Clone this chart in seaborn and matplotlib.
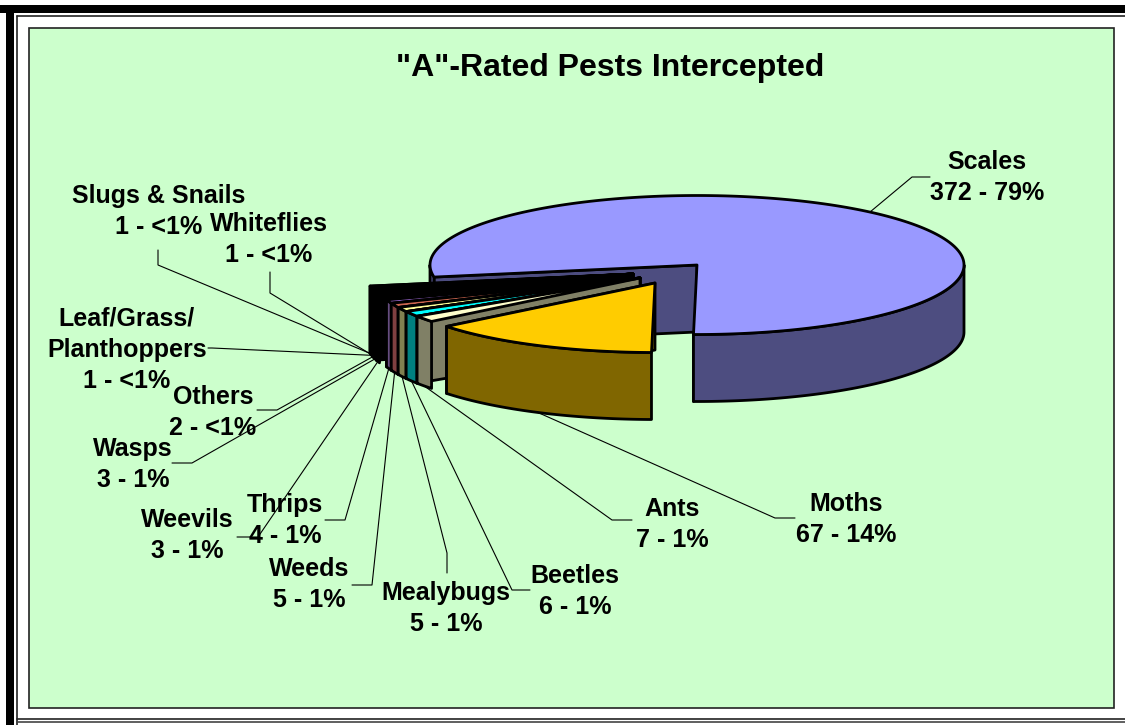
import numpy as np
import matplotlib
matplotlib.use("Agg")
import matplotlib.pyplot as plt
import seaborn as sns

pests = ['Scales', 'Moths', 'Ants', 'Beetles', 'Mealybugs', 'Weeds', 'Thrips', 'Weevils',
         'Wasps', 'Others', 'Leaf/Grass/\nPlanthoppers', 'Whiteflies', 'Slugs & Snails']
counts = [372, 67, 7, 6, 5, 5, 4, 3, 3, 2, 1, 1, 1]
shares = ['79%', '14%', '1%', '1%', '1%', '1%', '1%', '1%', '1%', '<1%', '<1%', '<1%', '<1%']

top_colors = ['#9999FF', '#FFCC00', '#FFFFCC', '#00FFFF', '#FFFF99', '#CC6650', '#9966CC',
              '#000000', '#000000', '#000000', '#000000', '#000000', '#000000']
side_colors = ['#4D4D80', '#806600', '#808066', '#008080', '#808050', '#804040', '#664D80',
               '#000000', '#000000', '#000000', '#000000', '#000000', '#000000']

sns.set_theme(style="white")
plt.rcParams['font.family'] = ['Liberation Sans', 'DejaVu Sans']

fig = plt.figure(figsize=(11.25, 7.25), dpi=100, facecolor='white')
ax = fig.add_axes([0, 0, 1, 1])
ax.set_xlim(0, 1125)
ax.set_ylim(725, 0)
ax.axis('off')

# frame around the chart
ax.fill([0, 1125, 1125, 0], [5, 5, 13, 13], color='black', lw=0)
ax.fill([6, 14, 14, 6], [5, 5, 725, 725], color='black', lw=0)
ax.plot([16.5, 1125], [16, 16], color='#222222', lw=1.2)
ax.plot([16.5, 16.5], [16, 725], color='#222222', lw=1.2)
ax.plot([16.5, 1125], [719, 719], color='#222222', lw=1.2)
ax.plot([16.5, 1125], [722, 722], color='#444444', lw=1.2)
ax.fill([29, 1114, 1114, 29], [28, 28, 708, 708], facecolor='#CCFFCC', edgecolor='#222222', lw=1.2)

# geometry of the tilted pie
RX, RY, DEPTH = 267, 69.5, 67
OUTLINE = 2.0
angles = 360 * np.cumsum([0] + counts) / sum(counts)
starts = 190 - angles[:-1]
ends = 190 - angles[1:]

# each slice pulled out from the middle, in pixels
apex = [(697, 265), (655, 283)] + [(640, 278)] * 5 + [(633, 274)] * 6


def rim(a0, a1, cx, cy):
    t = np.radians(np.linspace(a0, a1, 200))
    return cx + RX * np.cos(t), cy - RY * np.sin(t)


def draw_slice(i):
    cx, cy = apex[i]
    x, y = rim(starts[i], ends[i], cx, cy)
    style = dict(edgecolor='black', lw=OUTLINE, joinstyle='round')
    # cut face on the clockwise end, then the other one for the big slice
    ex, ey = x[-1], y[-1]
    ax.fill([cx, ex, ex, cx], [cy, ey, ey + DEPTH, cy + DEPTH], facecolor=side_colors[i], **style)
    if i == 0:
        ex, ey = x[0], y[0]
        ax.fill([cx, ex, ex, cx], [cy, ey, ey + DEPTH, cy + DEPTH], facecolor=side_colors[i], **style)
    # outer wall, only the part facing the viewer
    lo, hi = min(starts[i], ends[i]), max(starts[i], ends[i])
    for w0, w1 in [(-180, 0), (180, 360)]:
        a0, a1 = max(lo, w0), min(hi, w1)
        if a1 > a0:
            wx, wy = rim(a0, a1, cx, cy)
            ax.fill(np.r_[wx, wx[::-1]], np.r_[wy, wy[::-1] + DEPTH], facecolor=side_colors[i], **style)
    ax.fill(np.r_[cx, x], np.r_[cy, y], facecolor=top_colors[i], **style)


# back to front: big slice, tiny ones from the far side, then moths
for i in [0] + list(range(12, 1, -1)) + [1]:
    draw_slice(i)

# leader lines: elbow and end are layout, start sits on the slice wall
elbows = [(912, 177, 930, 177), (775, 518, 795, 518), (612, 520, 632, 520), (512, 590, 530, 590),
          (447, 553, 447, 573), (372, 585, 352, 585), (345, 520, 325, 520), (258, 537, 237, 537),
          (192, 463, 172, 463), (277, 410, 257, 410), (212, 348, 208, 348), (270, 293, 270, 272),
          (158, 265, 158, 250)]
for i, (ex, ey, fx, fy) in enumerate(elbows):
    mid = np.radians((starts[i] + ends[i]) / 2)
    sx = apex[i][0] + RX * np.cos(mid)
    sy = apex[i][1] - RY * np.sin(mid) + (DEPTH if i > 0 else 0)
    ax.plot([sx, ex, fx], [sy, ey, fy], color='black', lw=0.8, zorder=3)

# labels go line by line so the spacing stays the same as the original
LINE_PITCH = 31.5
label_pos = [(987, 175), (846, 517), (672, 522), (575, 589), (446, 606), (309, 582), (285, 518),
             (187, 533), (133, 462), (213, 410), (127, 347), (269, 237), (159, 209)]
for name, n, share, (lx, ly) in zip(pests, counts, shares, label_pos):
    lines = f"{name}\n{n} - {share}".split("\n")
    for k, line in enumerate(lines):
        y = ly + (k - (len(lines) - 1) / 2) * LINE_PITCH
        ax.text(lx, y, line, ha='center', va='center_baseline', fontsize=18,
                fontweight='bold', color='black', zorder=5)

ax.text(610, 64, '"A"-Rated Pests Intercepted', ha='center', va='center_baseline', fontsize=23,
        fontweight='bold', color='black', zorder=5)

fig.savefig('out.png', dpi=100, facecolor='white')
